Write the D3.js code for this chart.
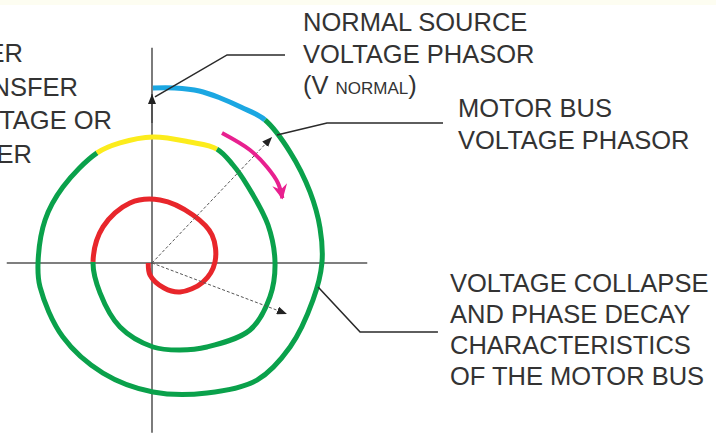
<!DOCTYPE html>
<html>
<head>
<meta charset="utf-8">
<script src="https://cdn.jsdelivr.net/npm/d3@7"></script>
<style>
  html, body { margin: 0; padding: 0; background: #fff; }
  svg { display: block; }
  text { font-family: "Liberation Sans", Arial, sans-serif; fill: #333; }
</style>
</head>
<body>
<svg id="chart" width="716" height="435"></svg>
<script>
// phasor plane, values in % of normal voltage (re, im)
const bluePts = [[0.5, 100], [13, 100], [27, 98.3], [39, 94.3], [51, 89], [64.6, 81.7]];
const outerGreenPts = [[64.6, 81.7], [78.9, 63.4], [90.3, 40.6], [96, 20], [97.1, 0], [92, -21.1],
  [78.9, -48], [60, -66.9], [31.4, -74.3], [0.6, -73.7], [-28, -62.9], [-50.9, -42.3],
  [-64, -13.7], [-65.1, 0.6], [-61.1, 24.6], [-50.9, 43.4], [-31.4, 62.9]];
const yellowPts = [[-31.4, 62.9], [-18.3, 68.6], [0.6, 72], [21.7, 69.1], [37.1, 65.1]];
const innerGreenPts = [[37.1, 65.1], [46.3, 56], [54.3, 44.6], [66.3, 21.7], [70.3, 0], [67.4, -19.4],
  [56, -38.3], [31.4, -48], [16, -49.7], [0.6, -48], [-18.3, -36.6], [-29.7, -17.1], [-33.7, 0.6]];
const redPts = [[-33.7, 0.6], [-28, 20.6], [-12.6, 34.3], [4.6, 36], [23.4, 27.4], [34.3, 16],
  [36, 0.6], [29.1, -10.9], [16, -16.6], [6.9, -14.3], [-1.1, -6.9], [-2.1, 0]];
const rotationPts = [[40, 74.3], [56, 64.6], [65.7, 54.9], [72, 45.7], [74.5, 37]];

const normalTip = [0, 96.6];
const motorTip = [68.6, 72];
const decayTip = [77.1, -29.1];

const normalLeader = [[1.7, 94.9], [42.9, 118.9], [76, 118.9]];
const motorLeader = [[71.4, 73.1], [100, 80], [166.3, 80]];
const decayLeader = [[94.9, -13.7], [118.9, -39.4], [163.4, -39.4]];

const axisRe = [-83, 123];
const axisIm = [-97, 123];

const normalLabel = ["NORMAL SOURCE", "VOLTAGE PHASOR"];
const motorLabel = ["MOTOR BUS", "VOLTAGE PHASOR"];
const decayLabel = ["VOLTAGE COLLAPSE", "AND PHASE DECAY", "CHARACTERISTICS", "OF THE MOTOR BUS"];
const leftLabel = ["ER", "NSFER", "TAGE OR", "ER"];

const svg = d3.select("#chart");

const x = d3.scaleLinear().domain([0, 100]).range([152, 327]);
const y = d3.scaleLinear().domain([0, 100]).range([263, 88]);

// faint band at the top of the scan
svg.append("rect").attr("x", 0).attr("y", 0).attr("width", 716).attr("height", 5)
  .attr("fill", "#fdfdf1");

const defs = svg.append("defs");
defs.append("marker")
  .attr("id", "tri")
  .attr("viewBox", "0 0 10 8")
  .attr("refX", 10).attr("refY", 4)
  .attr("markerWidth", 10).attr("markerHeight", 8)
  .attr("markerUnits", "userSpaceOnUse")
  .attr("orient", "auto")
  .append("path").attr("d", "M0,0L10,4L0,8Z").attr("fill", "#222");
defs.append("marker")
  .attr("id", "barb")
  .attr("viewBox", "0 0 12 12")
  .attr("refX", 11).attr("refY", 6)
  .attr("markerWidth", 17).attr("markerHeight", 15)
  .attr("markerUnits", "userSpaceOnUse")
  .attr("orient", "auto")
  .append("path").attr("d", "M0,0L12,6L0,12L4,6Z").attr("fill", "#e8208f");

const line = d3.line().x(d => x(d[0])).y(d => y(d[1]));
const smooth = d3.line().x(d => x(d[0])).y(d => y(d[1])).curve(d3.curveCatmullRom);

// axes
svg.append("line")
  .attr("x1", x(axisRe[0])).attr("x2", x(axisRe[1]))
  .attr("y1", y(0)).attr("y2", y(0))
  .attr("stroke", "#555").attr("stroke-width", 1.4);
svg.append("line")
  .attr("x1", x(0)).attr("x2", x(0))
  .attr("y1", y(axisIm[0])).attr("y2", y(axisIm[1]))
  .attr("stroke", "#444").attr("stroke-width", 1.4);

// normal source phasor arrowhead along the vertical axis
svg.append("path")
  .attr("d", line([[0, 80], normalTip]))
  .attr("stroke", "#444").attr("stroke-width", 1.4)
  .attr("marker-end", "url(#tri)");

// spiral: each colour drawn with its neighbours so the joins stay smooth,
// then the borrowed ends are hidden with a dash pattern
const segments = [
  { pts: bluePts, color: "#1ba7e2" },
  { pts: outerGreenPts, color: "#0aa14b" },
  { pts: yellowPts, color: "#fcec1c" },
  { pts: innerGreenPts, color: "#0aa14b" },
  { pts: redPts, color: "#e8262b" }
];
segments.forEach((seg, i) => {
  const prev = i > 0 ? segments[i - 1].pts : null;
  const next = i < segments.length - 1 ? segments[i + 1].pts : null;
  const ext = [];
  if (prev) ext.push(prev[prev.length - 2]);
  ext.push(...seg.pts);
  if (next) ext.push(next[1]);

  const p = svg.append("path")
    .attr("d", smooth(ext))
    .attr("fill", "none")
    .attr("stroke", seg.color)
    .attr("stroke-width", 5);

  const node = p.node();
  const total = node.getTotalLength();
  const a = [x(seg.pts[0][0]), y(seg.pts[0][1])];
  const b = [x(seg.pts[seg.pts.length - 1][0]), y(seg.pts[seg.pts.length - 1][1])];
  let s0 = 0, s1 = total, best0 = Infinity, best1 = Infinity;
  for (let s = 0; s <= total; s += 0.25) {
    const q = node.getPointAtLength(s);
    const d0 = Math.hypot(q.x - a[0], q.y - a[1]);
    const d1 = Math.hypot(q.x - b[0], q.y - b[1]);
    if (d0 < best0) { best0 = d0; s0 = s; }
    if (d1 < best1) { best1 = d1; s1 = s; }
  }
  p.attr("stroke-dasharray", `0 ${s0} ${s1 - s0} ${total + 10}`);
});

// dotted phasors from the origin
[motorTip, decayTip].forEach(tip => {
  svg.append("path")
    .attr("d", line([[0, 0], tip]))
    .attr("fill", "none")
    .attr("stroke", "#555").attr("stroke-width", 1)
    .attr("stroke-dasharray", "3,2")
    .attr("marker-end", "url(#tri)");
});

// rotation arrow
svg.append("path")
  .attr("d", smooth(rotationPts))
  .attr("fill", "none")
  .attr("stroke", "#e8208f").attr("stroke-width", 4)
  .attr("marker-end", "url(#barb)");

// leaders
[normalLeader, motorLeader, decayLeader].forEach(pts => {
  svg.append("path")
    .attr("d", line(pts))
    .attr("fill", "none")
    .attr("stroke", "#2a2a2a").attr("stroke-width", 1.6);
});

// labels
const fs = 25.5;
function block(lines, x0, y0, dy, anchor) {
  svg.append("g").selectAll("text")
    .data(lines)
    .join("text")
    .attr("x", (d, i) => Array.isArray(x0) ? x0[i] : x0)
    .attr("y", (d, i) => y0 + i * dy)
    .attr("text-anchor", anchor || "start")
    .attr("font-size", fs)
    .text(d => d);
}
block(normalLabel, 303, 31, 31.5);
const vn = svg.append("text").attr("x", 303).attr("y", 94).attr("font-size", fs);
vn.append("tspan").text("(V ");
vn.append("tspan").attr("font-size", 17).text("NORMAL");
vn.append("tspan").text(")");
block(motorLabel, 458, 117, 32);
block(decayLabel, 450, 292, 31);
// the reference crops this block at the left edge
block(leftLabel, [23, 78, 112, 32], 62, 33.7, "end");
</script>
</body>
</html>
